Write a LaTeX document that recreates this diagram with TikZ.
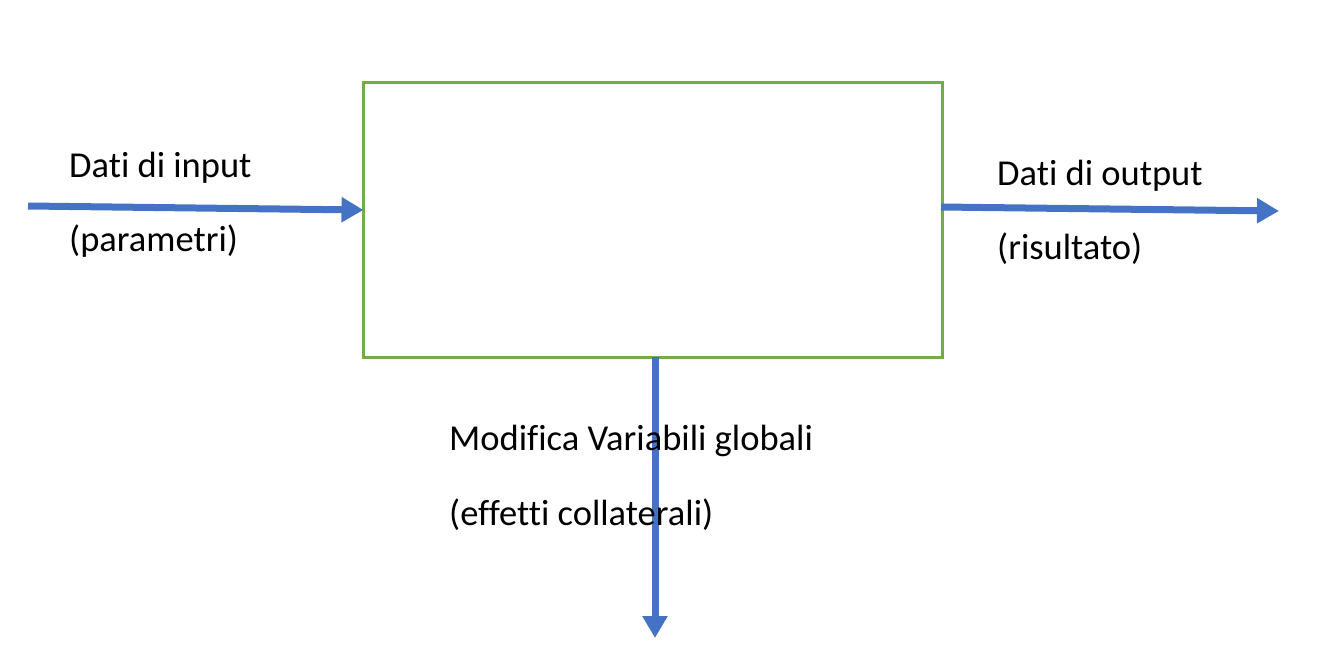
\documentclass[tikz,border=0pt]{standalone}
\usepackage{fontspec}
\setmainfont[Ligatures={NoCommon}]{Carlito}
\usetikzlibrary{arrows.meta}
\definecolor{boxgreen}{HTML}{70AD47}
\definecolor{arrowblue}{HTML}{4472C4}
\begin{document}
\begin{tikzpicture}[x=1pt,y=-1pt,
  lbl/.style={anchor=base west,inner sep=0pt,font=\fontsize{36.5}{42}\selectfont},
  flow/.style={draw=arrowblue,line width=7pt,-{Triangle[length=22pt,width=24pt]}},
  boxstyle/.style={draw=boxgreen,line width=2.7pt}]
\useasboundingbox (0,0) rectangle (1341,658);
\node[boxstyle,minimum width=579pt,minimum height=275pt,inner sep=0pt,outer sep=0pt,anchor=north west] (box) at (363.5,82.5) {};
\coordinate (inL) at (28,206);
\coordinate (inR) at (363.5,210);
\coordinate (outL) at (941,207);
\coordinate (outR) at (1279,211);
\coordinate (dnT) at (655,357);
\coordinate (dnB) at (655,638);
\draw[flow] (inL) -- (inR);
\draw[flow] (outL) -- (outR);
\draw[flow] (dnT) -- (dnB);
\node[lbl] (t1) at (69,177) {Dati di input};
\node[lbl] (t2) at (69,251) {(parametri)};
\node[lbl] (t3) at (997,185) {Dati di output};
\node[lbl] (t4) at (997,259) {(risultato)};
\node[lbl] (t5) at (449,450) {Modifica Variabili globali};
\node[lbl] (t6) at (449,525) {(effetti collaterali)};
\end{tikzpicture}
\end{document}
